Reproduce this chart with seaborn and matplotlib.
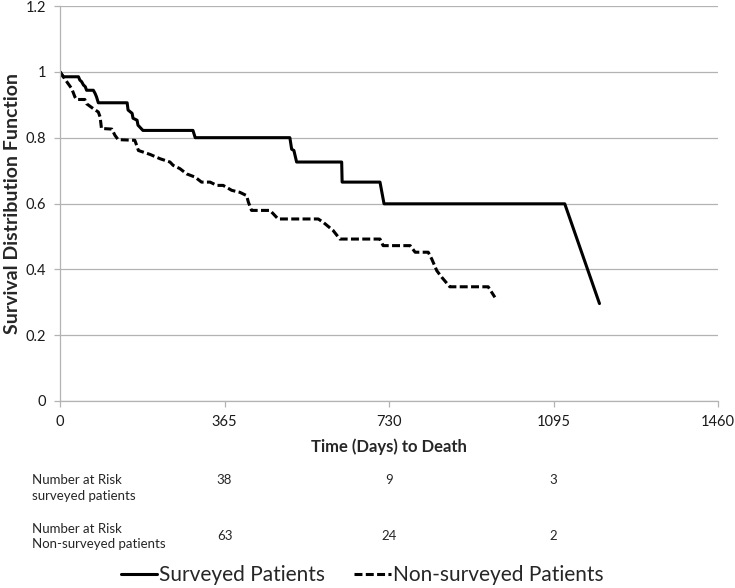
import numpy as np
import pandas as pd
import matplotlib
matplotlib.use("Agg")
import matplotlib.pyplot as plt
import matplotlib.transforms as mtransforms
from matplotlib.ticker import FuncFormatter
import seaborn as sns

#%% datos
surv_days = [0, 7, 41, 44, 48, 52, 56, 59, 74, 78, 81, 85, 149, 151, 160, 162,
             171, 173, 184, 295, 300, 510, 514, 519, 525, 625, 626, 710, 719,
             1120, 1197]
surv_prob = [1.0, 0.985, 0.985, 0.975, 0.97, 0.96, 0.955, 0.944, 0.944, 0.934,
             0.924, 0.906, 0.906, 0.884, 0.874, 0.859, 0.853, 0.838, 0.822,
             0.822, 0.80, 0.80, 0.765, 0.761, 0.726, 0.726, 0.665, 0.665,
             0.599, 0.599, 0.296]

nons_days = [0, 15, 26, 33, 37, 55, 59, 74, 85, 89, 92, 115, 122, 129, 166,
             170, 174, 185, 200, 222, 244, 251, 266, 281, 300, 314, 333, 348,
             362, 381, 399, 414, 418, 425, 466, 473, 484, 573, 584, 606, 621,
             710, 717, 777, 788, 817, 825, 836, 847, 865, 950, 965]
nons_prob = [1.0, 0.97, 0.949, 0.924, 0.916, 0.916, 0.903, 0.888, 0.878, 0.863,
             0.828, 0.826, 0.807, 0.794, 0.792, 0.777, 0.761, 0.756, 0.749,
             0.736, 0.726, 0.716, 0.706, 0.690, 0.680, 0.665, 0.665, 0.655,
             0.655, 0.640, 0.634, 0.624, 0.604, 0.579, 0.579, 0.569, 0.553,
             0.553, 0.543, 0.518, 0.492, 0.492, 0.472, 0.472, 0.452, 0.452,
             0.431, 0.396, 0.376, 0.347, 0.347, 0.315]

x_ticks = [0, 365, 730, 1095, 1460]
risk_days = [365, 730, 1095]
risk_surveyed = [38, 9, 3]
risk_nonsurveyed = [63, 24, 2]

#%% estilo
sns.set_style("white")
plt.rcParams['font.family'] = ['Lato', 'DejaVu Sans']

fig = plt.figure(figsize=(7.35, 5.88), dpi=100)
ax = fig.add_axes([60/735, 1-401/588, 658/735, 395/588])

grid_c = '#b3b3b3'

#%% curvas
sns.lineplot(x=surv_days, y=surv_prob, ax=ax, color='black', lw=2.2,
             sort=False, estimator=None, label='Surveyed Patients')
sns.lineplot(x=nons_days, y=nons_prob, ax=ax, color='black', lw=2.2,
             sort=False, estimator=None, label='Non-surveyed Patients',
             linestyle=(0, (2.6, 1.1)), dash_capstyle='butt')

#%% ejes
ax.set_xlim(0, 1460)
ax.set_ylim(0, 1.2)
ax.set_xticks(x_ticks)
ax.set_yticks(np.arange(0, 1.21, 0.2))
ax.yaxis.set_major_formatter(FuncFormatter(lambda v, _: f'{v:g}'))
ax.yaxis.grid(True, color=grid_c, lw=0.9)
ax.xaxis.grid(False)
for s in ['top', 'right']:
    ax.spines[s].set_visible(False)
for s in ['left', 'bottom']:
    ax.spines[s].set_color(grid_c)
    ax.spines[s].set_linewidth(0.9)
ax.tick_params(axis='both', which='major', length=4, width=0.9, color=grid_c,
               labelsize=10.5, labelcolor='#1a1a1a', pad=6, direction='out',
               bottom=True, left=True)
ax.set_xlabel('Time (Days) to Death', fontsize=12, fontweight='bold', labelpad=7)
ax.set_ylabel('Survival Distribution Function', fontsize=14, fontweight='bold',
              labelpad=3)

#%% tabla de numero en riesgo
trans = mtransforms.blended_transform_factory(ax.transData, fig.transFigure)
fig.text(32/735, 1-488/588, 'Number at Risk\nsurveyed patients', fontsize=9.5,
         va='center', ha='left', linespacing=1.3)
fig.text(32/735, 1-536.5/588, 'Number at Risk\nNon-surveyed patients', fontsize=9.5,
         va='center', ha='left', linespacing=1.3)
for d, n1, n2 in zip(risk_days, risk_surveyed, risk_nonsurveyed):
    ax.text(d, 1-480/588, str(n1), transform=trans, fontsize=9.5,
            ha='center', va='center', clip_on=False)
    ax.text(d, 1-536.5/588, str(n2), transform=trans, fontsize=9.5,
            ha='center', va='center', clip_on=False)

#%% leyenda
handles, labels = ax.get_legend_handles_labels()
ax.get_legend().remove()
fig.legend(handles, labels, loc='center', bbox_to_anchor=(362/735, 1-575/588),
           ncol=2, frameon=False, fontsize=15, handlelength=1.75,
           handletextpad=0.1, columnspacing=1.4)

fig.savefig('out.png', dpi=100)
